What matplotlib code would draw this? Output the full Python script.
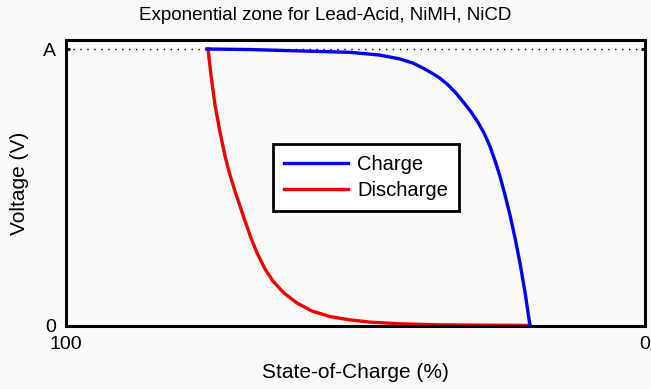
import matplotlib
matplotlib.use("Agg")
import matplotlib.pyplot as plt

plt.rcParams['font.family'] = ['Liberation Sans', 'DejaVu Sans']

# state of charge (%) and normalised voltage (A = 1) for each curve
charge_soc = [75.65, 68.22, 59.59, 50.95, 45.77, 42.31, 40.07, 38.51, 37.13,
              35.58, 34.20, 32.82, 31.43, 30.05, 28.84, 27.81, 26.77, 25.91,
              25.04, 24.18, 23.32, 22.45, 21.59, 20.73, 19.86]
charge_v = [1.0, 0.998, 0.993, 0.988, 0.978, 0.964, 0.949, 0.933, 0.917,
            0.897, 0.874, 0.845, 0.810, 0.773, 0.735, 0.697, 0.648, 0.597,
            0.540, 0.473, 0.401, 0.318, 0.227, 0.123, 0.0]

discharge_soc = [75.47, 74.96, 74.27, 73.40, 72.54, 71.68, 70.81, 69.95, 69.08,
                 68.05, 67.01, 65.63, 64.25, 62.35, 60.10, 57.51, 54.40, 50.95,
                 47.50, 42.31, 35.41, 19.86]
discharge_v = [1.0, 0.906, 0.798, 0.700, 0.614, 0.545, 0.487, 0.433, 0.379,
               0.318, 0.264, 0.206, 0.162, 0.119, 0.083, 0.054, 0.034, 0.022,
               0.014, 0.008, 0.004, 0.002]

x_ticks = [100, 0]
x_tick_labels = ['100', '0']
y_ticks = [0, 1]
y_tick_labels = ['0', 'A']

bg = '#fafbf8'
fig = plt.figure(figsize=(6.51, 3.89), dpi=100, facecolor=bg)
ax = fig.add_axes([66 / 651, 1 - 326 / 389, 579 / 651, 286 / 389])
ax.set_facecolor(bg)

ax.axhline(1, color='black', lw=1.0, ls=(0, (1, 4)), zorder=1)
ax.plot(charge_soc, charge_v, color='#0000ee', lw=2.4, label='Charge', zorder=3)
ax.plot(discharge_soc, discharge_v, color='#ee0000', lw=2.4, label='Discharge', zorder=2)

ax.set_xlim(100, 0)
ax.set_ylim(0, 1.0325)
ax.set_xticks(x_ticks)
ax.set_xticklabels(x_tick_labels)
ax.set_yticks(y_ticks)
ax.set_yticklabels(y_tick_labels)
ax.tick_params(direction='in', length=3, width=2, labelsize=14, pad=7,
               right=True, top=True)
for s in ax.spines.values():
    s.set_linewidth(2.2)

ax.set_xlabel('State-of-Charge (%)', fontsize=15, va='center')
ax.xaxis.set_label_coords(0.5, -47 / 286)
ax.set_ylabel('Voltage (V)', fontsize=15, va='center')
ax.yaxis.set_label_coords(-46 / 579, 0.5)
fig.text(0.5, 1 - 16 / 389, 'Exponential zone for Lead-Acid, NiMH, NiCD',
         fontsize=13.5, ha='center', va='center')

leg = ax.legend(loc='center', bbox_to_anchor=(0.518, 0.52), fontsize=14.5,
                fancybox=False, framealpha=1, edgecolor='black',
                handlelength=3.2, borderpad=0.55, labelspacing=0.35,
                handletextpad=0.45)
leg.get_frame().set_linewidth(2.0)

fig.savefig('out.png', dpi=100, facecolor=bg)
